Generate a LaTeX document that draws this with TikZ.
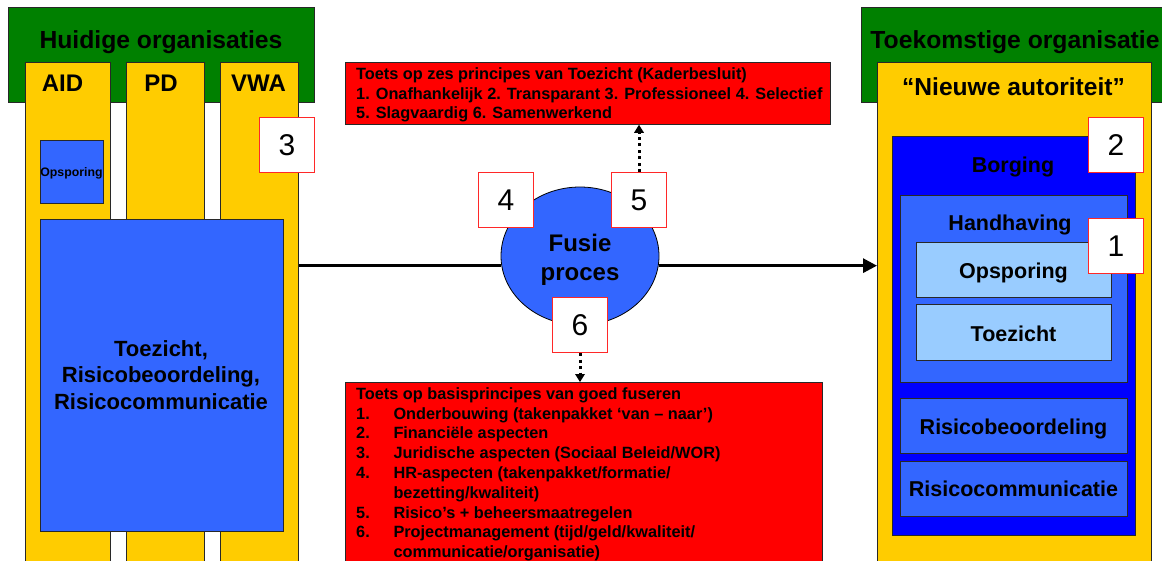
\documentclass[tikz,border=0pt]{standalone}
\usepackage{fontspec}
\setmainfont{Liberation Sans}
\usetikzlibrary{arrows.meta,shapes.geometric}
\definecolor{grn}{RGB}{0,128,0}
\definecolor{ylw}{RGB}{255,204,0}
\definecolor{blu}{RGB}{51,102,255}
\definecolor{dblu}{RGB}{0,0,255}
\definecolor{lblu}{RGB}{153,204,255}
\definecolor{rd}{RGB}{255,0,0}
\definecolor{nbred}{RGB}{255,40,40}
\definecolor{edge}{RGB}{40,40,40}
\newcommand{\fs}[2]{\fontsize{#1}{#2}\selectfont}
\begin{document}
\begin{tikzpicture}[x=1pt,y=-1pt,
  box/.style={rectangle,draw=edge,line width=0.8pt,inner sep=0pt,anchor=north west},
  numbox/.style={rectangle,draw=nbred,fill=white,line width=1pt,inner sep=0pt,anchor=north west,
    minimum width=55pt,minimum height=55pt,font=\fs{30}{30}},
  lbl/.style={anchor=base,inner sep=0pt,font=\bfseries\fs{#1}{#1}},
  lbl/.default=21.5,
  rtxt/.style={anchor=base west,inner sep=0pt,font=\bfseries\fs{16.3}{19.5}},
  mainarrow/.style={line width=3pt,-{Triangle[length=14pt,width=14pt]}},
  dotarrow/.style={line width=3pt,dash pattern=on 3pt off 3.5pt,-{Triangle[length=8pt,width=10pt,line width=0pt]}}
]
\useasboundingbox (0,0) rectangle (1162,560);
\clip (0,0) rectangle (1162,560);

% ---------- left: current organisations ----------
\node[box,fill=grn,minimum width=306pt,minimum height=94.5pt] (hgreen) at (8,7) {};
\node[lbl=24.7] (htitle) at (161,48.3) {Huidige organisaties};
\node[box,fill=ylw,minimum width=85pt,minimum height=520pt] (aid) at (25,62) {};
\node[box,fill=ylw,minimum width=78pt,minimum height=520pt] (pd) at (126,62) {};
\node[box,fill=ylw,minimum width=78pt,minimum height=520pt] (vwa) at (220,62) {};
\node[lbl=24] (aidl) at (62.5,91.7) {AID};
\node[lbl=24] (pdl) at (161,91.7) {PD};
\node[lbl=24] (vwal) at (258.5,91.7) {VWA};
\node[box,fill=blu,minimum width=63pt,minimum height=63pt] (opsl) at (40,140) {};
\node[lbl=12.3] (opslt) at (71.5,176.5) {Opsporing};
\node[box,fill=blu,minimum width=243pt,minimum height=312pt] (bigl) at (40,219) {};
\node[lbl=22] (bt1) at (161,356.7) {Toezicht,};
\node[lbl=22] (bt2) at (161,382.9) {Risicobeoordeling,};
\node[lbl=22] (bt3) at (161,409.3) {Risicocommunicatie};
\node[numbox] (n3) at (259,117) {3};

% ---------- middle: red boxes ----------
\node[box,fill=rd,minimum width=485pt,minimum height=62pt] (topred) at (345,62) {};
\node[rtxt] (t1) at (356,79.5) {Toets op zes principes van Toezicht (Kaderbesluit)};
\node[rtxt] (t2) at (356,99.2) {1. Onafhankelijk 2. Transparant 3. Professioneel 4. Selectief};
\node[rtxt] (t3) at (356,118.9) {5. Slagvaardig 6. Samenwerkend};

\node[box,fill=rd,minimum width=477pt,minimum height=200pt] (botred) at (345,382) {};
\node[rtxt] (b0) at (356,399.3) {Toets op basisprincipes van goed fuseren};
\node[rtxt] (b1n) at (356,419.1) {1.};
\node[rtxt] (b1) at (393.3,419.1) {Onderbouwing (takenpakket ‘van – naar’)};
\node[rtxt] (b2n) at (356,438.9) {2.};
\node[rtxt] (b2) at (393.3,438.9) {Financiële aspecten};
\node[rtxt] (b3n) at (356,458.7) {3.};
\node[rtxt] (b3) at (393.3,458.7) {Juridische aspecten (Sociaal Beleid/WOR)};
\node[rtxt] (b4n) at (356,478.5) {4.};
\node[rtxt] (b4) at (393.3,478.5) {HR-aspecten (takenpakket/formatie/};
\node[rtxt] (b4b) at (393.3,498.3) {bezetting/kwaliteit)};
\node[rtxt] (b5n) at (356,518.1) {5.};
\node[rtxt] (b5) at (393.3,518.1) {Risico’s + beheersmaatregelen};
\node[rtxt] (b6n) at (356,537.9) {6.};
\node[rtxt] (b6) at (393.3,537.9) {Projectmanagement (tijd/geld/kwaliteit/};
\node[rtxt] (b6b) at (393.3,557.4) {communicatie/organisatie)};

% ---------- right: future organisation ----------
\node[box,fill=grn,minimum width=306pt,minimum height=94.5pt] (tgreen) at (861,7) {};
\node[lbl=24.7] (ttitle) at (1015,48.3) {Toekomstige organisatie};
\node[box,fill=ylw,minimum width=274pt,minimum height=520pt] (nieuw) at (877,62) {};
\node[lbl=24.6] (nieuwl) at (1013.5,95) {“Nieuwe autoriteit”};
\node[box,fill=dblu,minimum width=243pt,minimum height=399pt] (borg) at (892,136) {};
\node[lbl=21.5] (borgl) at (1013,172.7) {Borging};
\node[box,fill=blu,minimum width=227pt,minimum height=187pt] (handh) at (900,195) {};
\node[lbl=21.5] (handhl) at (1010,230) {Handhaving};
\node[box,fill=lblu,minimum width=195pt,minimum height=55pt] (opsr) at (916,242) {};
\node[lbl=21.5] (opsrl) at (1013.5,278.3) {Opsporing};
\node[box,fill=lblu,minimum width=195pt,minimum height=56pt] (toezr) at (916,304) {};
\node[lbl=21.5] (toezrl) at (1013.5,341) {Toezicht};
\node[box,fill=blu,minimum width=227pt,minimum height=55pt] (rb) at (900,398) {};
\node[lbl=21.5] (rbl) at (1013.5,434) {Risicobeoordeling};
\node[box,fill=blu,minimum width=227pt,minimum height=55pt] (rc) at (900,461) {};
\node[lbl=21.5] (rcl) at (1013.5,496.5) {Risicocommunicatie};
\node[numbox] (n2) at (1088,117) {2};
\node[numbox] (n1) at (1088,218) {1};

% ---------- fusion process ----------
\node[ellipse,draw=black,line width=0.8pt,fill=blu,minimum width=158pt,minimum height=138pt,inner sep=0pt] (fusie) at (580,256) {};
\draw[line width=3pt] (vwa.east |- fusie.187) -- (fusie.187);
\draw[mainarrow] (fusie.-7) -- (nieuw.west |- fusie.-7);
\node[lbl=24] (fusiel1) at (580,251.7) {Fusie};
\node[lbl=24] (fusiel2) at (580,280) {proces};
\node[numbox] (n4) at (478,172) {4};
\node[numbox] (n5) at (611,172) {5};
\node[numbox] (n6) at (552,297) {6};
\draw[dotarrow] (n5.north) -- (n5.north |- topred.south);
\draw[dotarrow] (n6.south) -- (n6.south |- botred.north);
\end{tikzpicture}
\end{document}
